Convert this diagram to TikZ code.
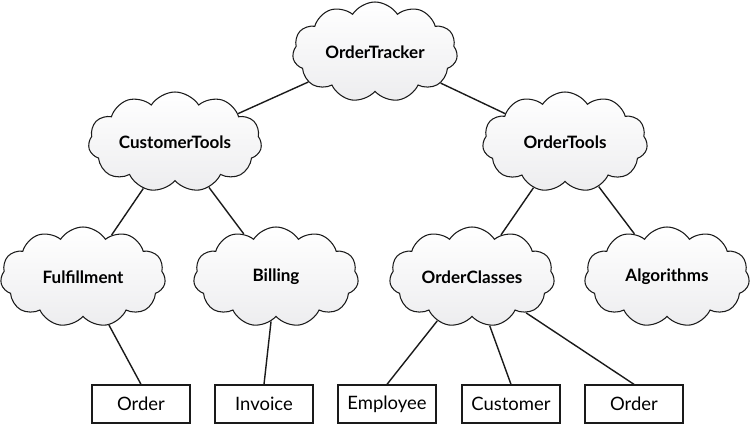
\documentclass[tikz,border=0pt]{standalone}
\usepackage{fontspec}
\setmainfont{Lato}
\usetikzlibrary{shapes.symbols}
\definecolor{cline}{HTML}{1A1A1A}
\definecolor{cshade}{HTML}{EDEDEF}
\tikzset{
  every picture/.style={font=\fontsize{10.5}{12}\selectfont, line width=0.75pt},
  pkg/.style={cloud, cloud puffs=11, cloud puff arc=115, cloud ignores aspect,
    draw=cline, line width=0.6pt, top color=white, bottom color=cshade,
    minimum width=3.3cm, minimum height=2cm, font=\fontsize{9.7}{11}\selectfont\bfseries},
  cls/.style={draw=cline, fill=white, minimum width=1.96cm, minimum height=0.76cm, inner sep=2pt},
  link/.style={draw=cline, line width=0.8pt},
}
\begin{document}
\begin{tikzpicture}
  \useasboundingbox (0,0) rectangle (15,8.48);
  % packages
  \node[pkg] (tracker) at (7.5,7.44) {OrderTracker};
  \node[pkg] (custtools) at (3.5,5.64) {CustomerTools};
  \node[pkg] (ordtools) at (11.3,5.64) {OrderTools};
  \node[pkg] (fulfil) at (1.66,2.94) {Fulfillment};
  \node[pkg] (billing) at (5.52,2.94) {Billing};
  \node[pkg] (ordclasses) at (9.44,2.94) {OrderClasses};
  \node[pkg] (algos) at (13.34,2.94) {Algorithms};
  % classes
  \node[cls] (order1) at (2.82,0.4) {Order};
  \node[cls] (invoice) at (5.28,0.4) {Invoice};
  \node[cls] (employee) at (7.74,0.4) {Employee};
  \node[cls] (customer) at (10.22,0.4) {Customer};
  \node[cls] (order2) at (12.68,0.4) {Order};
  % links
  \foreach \a/\b in {tracker/custtools, tracker/ordtools, custtools/fulfil, custtools/billing,
                     ordtools/ordclasses, ordtools/algos}
    \draw[link] (\a) -- (\b);
  \draw[link] (fulfil) -- (order1.north);
  \draw[link] (billing) -- (invoice.north);
  \foreach \c in {employee, customer, order2}
    \draw[link] (ordclasses) -- (\c.north);
\end{tikzpicture}
\end{document}
